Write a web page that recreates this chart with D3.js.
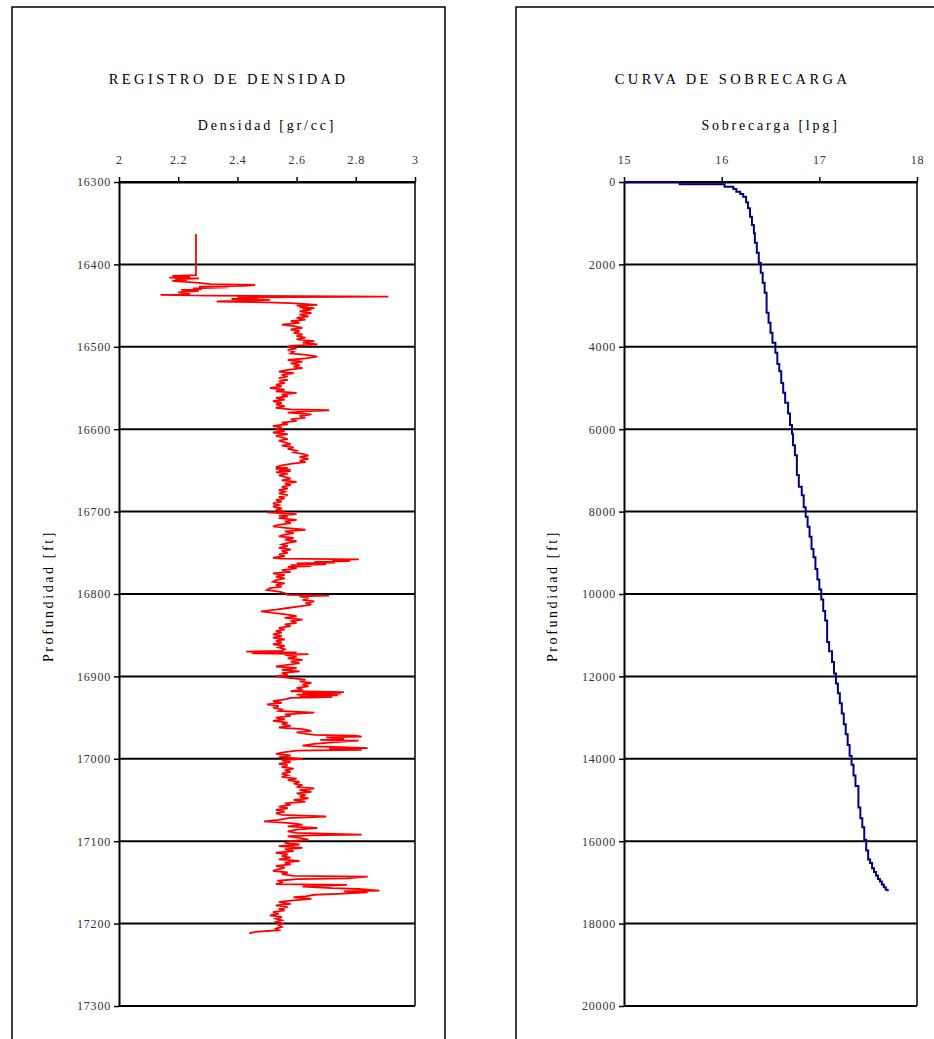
<!DOCTYPE html>
<html><head><meta charset="utf-8">
<script src="https://cdn.jsdelivr.net/npm/d3@7"></script>
<style>
body{margin:0;background:#fff;}
svg{display:block;font-family:"Liberation Serif","Times New Roman",serif;}
</style></head><body>
<svg id="c" width="934" height="1039"></svg>
<script>
// ---------- tick values ----------
const densityTicks = [2, 2.2, 2.4, 2.6, 2.8, 3];
const depthTicks = [16300, 16400, 16500, 16600, 16700, 16800, 16900, 17000, 17100, 17200, 17300];
const overburdenTicks = [15, 16, 17, 18];
const obDepthTicks = [0, 2000, 4000, 6000, 8000, 10000, 12000, 14000, 16000, 18000, 20000];

// ---------- density log (depth ft, density gr/cc) ----------
const densityDepth = [
  16363,16413,16414,16415,16416,16417,16418,16419,16420,16421,16422,
  16424,16425,16426,16427,16428,16429,16430,16431,16432,
  16434,16436,16437,16438,16439,16440,16441,16442,16443,16444,16445,16446,16447,16448,16449,16450,16451,16452,16453,16454,16455,
  16457,16459,16461,16463,16465,16467,16469,16471,16473,16475,16477,16479,16481,16483,16485,16487,16489,16491,16493,16495,16497,16499,
  16500,16502,16504,16506,16508,16510,16512,16514,16516,16518,16520,16522,16524,16526,16528,16530,16532,16534,16536,16538,16540,16542,16544,16546,16548,16550,16552,16554,16556,16558,16560,16562,16564,16566,16568,16570,16572,16574,16576,
  16577,16578,
  16580,16582,16584,16586,16588,16590,16592,16594,16596,16598,16600,16602,16604,16606,16608,16610,16612,16614,16616,16618,16620,16622,16624,16626,16628,16630,16632,16634,16636,16638,16640,16642,16644,16646,
  16647,16648,16649,16650,16651,16652,
  16654,16656,16658,16660,16662,16664,16666,16668,16670,16672,16674,16676,16678,16680,16682,16684,16686,16688,16690,16692,16694,16696,16698,16700,
  16701,16703,16705,
  16706,16708,16710,16712,16714,16716,16718,16720,16722,16724,16726,16728,16730,16732,16734,16736,16738,16740,16742,16744,16746,16748,16750,16752,16754,16756,
  16757,16758,16759,16760,16761,16762,16763,16764,16765,16766,16767,
  16769,16771,16773,16775,16777,16779,16781,16783,16785,16787,16789,16791,16793,16795,16797,16799,16801,
  16802,16803,
  16805,16807,16809,16811,16813,16815,16817,16819,16821,16823,16825,16827,16829,16831,16833,16835,16837,16839,16841,16843,16845,16847,16849,16851,16853,16855,16857,16859,16861,16863,16865,16867,16869,
  16870,16871,16872,16873,16874,
  16876,16878,16880,16882,16884,16886,16888,16890,16892,16894,16896,16898,16900,
  16902,16904,16906,16908,16910,16912,16914,16916,16918,
  16919,16920,16921,16922,16923,16924,16925,
  16926,16928,16930,16932,16934,16936,16938,16940,16942,16944,16946,16948,16950,16952,16954,16956,16958,16960,16962,16964,16966,16968,16970,
  16971,16972,16973,16974,
  16976,16977,16978,
  16980,16982,16984,
  16985,16986,16987,16988,16989,
  16990,16992,16994,16996,16998,
  17000,17002,17004,17006,17008,17010,17012,17014,17016,17018,
  17020,17022,17024,17026,17028,17030,17032,17034,17036,17038,
  17040,17042,17044,17046,17048,17050,17052,17054,17056,17058,
  17060,17062,17064,17066,17068,17070,17072,17074,17076,17078,
  17080,17082,17084,17086,17088,17090,
  17092,17093,17094,
  17096,17098,17100,17102,17104,17106,17108,17110,17112,17114,17116,17118,17120,17122,17124,17126,17128,17130,17132,17134,17136,17138,17140,17142,
  17143,17145,17146,17148,17150,17152,17153,17155,17157,17158,17160,17161,17162,17164,17165,17167,17168,
  17170,17172,17174,17176,17178,17180,17182,17184,17186,17188,17190,17192,17194,17196,17198,17200,17202,17204,17206,17208,
  17210,17212
];
const densityValue = [
  2.26,2.26,2.18,2.24,2.17,2.27,2.19,2.23,2.18,2.21,2.26,
  2.31,2.46,2.42,2.27,2.37,2.25,2.28,2.21,2.27,
  2.20,2.24,2.14,2.30,2.91,2.40,2.47,2.38,2.51,2.44,2.33,2.50,2.58,2.62,2.67,2.60,2.64,2.61,2.66,2.62,2.65,
  2.61,2.65,2.61,2.64,2.60,2.63,2.58,2.61,2.55,2.59,2.62,2.58,2.61,2.59,2.62,2.60,2.63,2.60,2.66,2.62,2.67,2.58,
  2.57,2.60,2.57,2.59,2.58,2.64,2.67,2.63,2.57,2.62,2.58,2.61,2.59,2.62,2.57,2.54,2.59,2.55,2.57,2.54,2.57,2.54,2.56,2.53,2.55,2.51,2.56,2.53,2.60,2.55,2.57,2.53,2.56,2.52,2.55,2.53,2.56,2.53,2.58,
  2.71,2.64,
  2.57,2.65,2.61,2.63,2.58,2.60,2.55,2.57,2.52,2.55,2.53,2.56,2.52,2.57,2.53,2.55,2.57,2.54,2.56,2.58,2.55,2.59,2.57,2.60,2.59,2.62,2.64,2.61,2.64,2.61,2.63,2.58,2.55,2.53,
  2.57,2.53,2.58,2.54,2.58,2.53,
  2.57,2.54,2.56,2.58,2.55,2.60,2.56,2.58,2.55,2.57,2.54,2.56,2.54,2.57,2.54,2.56,2.53,2.55,2.52,2.54,2.52,2.55,2.53,2.56,
  2.50,2.60,2.54,
  2.57,2.54,2.60,2.56,2.58,2.54,2.52,2.57,2.63,2.56,2.59,2.56,2.54,2.59,2.56,2.60,2.57,2.55,2.57,2.54,2.58,2.55,2.57,2.54,2.56,2.52,
  2.55,2.81,2.72,2.78,2.66,2.73,2.60,2.70,2.58,2.65,2.57,
  2.60,2.55,2.58,2.52,2.56,2.53,2.56,2.53,2.52,2.56,2.53,2.55,2.51,2.50,2.54,2.56,2.57,
  2.71,2.61,
  2.64,2.62,2.66,2.63,2.65,2.61,2.57,2.53,2.48,2.52,2.57,2.60,2.56,2.62,2.58,2.60,2.56,2.58,2.54,2.56,2.53,2.55,2.52,2.55,2.52,2.56,2.53,2.55,2.52,2.56,2.54,2.56,2.55,
  2.43,2.60,2.45,2.64,2.56,
  2.60,2.57,2.62,2.58,2.61,2.57,2.53,2.60,2.55,2.61,2.55,2.57,2.53,
  2.58,2.63,2.61,2.65,2.62,2.64,2.60,2.62,2.58,
  2.76,2.62,2.75,2.60,2.74,2.61,2.72,
  2.58,2.56,2.52,2.55,2.50,2.54,2.52,2.55,2.54,2.66,2.56,2.58,2.53,2.56,2.52,2.57,2.55,2.58,2.54,2.62,2.65,2.60,2.64,
  2.66,2.80,2.82,2.70,
  2.76,2.68,2.81,
  2.72,2.66,2.62,
  2.66,2.75,2.84,2.71,2.82,
  2.60,2.56,2.53,2.58,2.54,
  2.62,2.55,2.58,2.54,2.57,2.55,2.59,2.56,2.58,2.55,
  2.57,2.55,2.60,2.57,2.61,2.59,2.62,2.60,2.66,2.61,
  2.65,2.60,2.63,2.61,2.64,2.59,2.63,2.56,2.58,2.54,
  2.57,2.53,2.56,2.53,2.55,2.70,2.57,2.54,2.49,2.58,
  2.62,2.57,2.67,2.60,2.57,2.60,
  2.82,2.65,2.57,
  2.61,2.64,2.58,2.56,2.61,2.54,2.62,2.56,2.59,2.53,2.57,2.55,2.58,2.54,2.61,2.56,2.58,2.53,2.56,2.54,2.52,2.57,2.55,2.59,
  2.84,2.77,2.60,2.54,2.55,2.53,2.77,2.62,2.72,2.81,2.88,2.76,2.84,2.74,2.66,2.63,2.59,
  2.65,2.58,2.54,2.58,2.53,2.57,2.54,2.56,2.52,2.54,2.51,2.55,2.53,2.55,2.53,2.55,2.54,2.55,2.53,2.54,
  2.46,2.44
];

// ---------- overburden curve (depth ft, lpg) ----------
const obDepth = [0,0,56,113,170,235,291,356,494,639,
  841,1044,1246,1474,1716,1959,2201,2443,2686,3172,
  3414,3657,3900,4142,4417,4594,4881,5115,5358,5618,
  5896,6113,6391,6634,7111,7398,7606,7893,8127,8370,
  8613,8908,9108,9394,9646,9889,10132,10410,10644,11165,
  11391,11651,11929,12172,12406,12649,12901,13161,13404,13665,
  13925,14142,14403,14663,15184,15444,15661,15965,16225,16442,
  16529,16659,16746,16833,16920,16981,17050,17119,17180,17212];
const obValue = [15.00,15.57,16.03,16.12,16.15,16.19,16.22,16.25,16.27,16.29,
  16.31,16.33,16.34,16.36,16.38,16.40,16.42,16.44,16.46,16.48,
  16.50,16.52,16.55,16.57,16.59,16.61,16.63,16.65,16.68,16.70,
  16.72,16.73,16.75,16.77,16.79,16.82,16.84,16.86,16.88,16.90,
  16.92,16.94,16.96,16.98,17.00,17.02,17.04,17.06,17.08,17.10,
  17.13,17.15,17.17,17.19,17.21,17.23,17.25,17.27,17.29,17.31,
  17.33,17.35,17.37,17.40,17.42,17.44,17.46,17.48,17.50,17.52,
  17.54,17.56,17.58,17.60,17.62,17.64,17.66,17.68,17.70,17.70];

const svg = d3.select("#c");
const fmt = d3.format("~g");

function panel(o) {
  const g = svg.append("g");
  // frame
  g.append("rect").attr("x", o.fx).attr("y", 7).attr("width", 433).attr("height", 1060)
    .attr("fill", "none").attr("stroke", "#000").attr("stroke-width", 1.5);
  const x = d3.scaleLinear().domain(o.xDomain).range([o.L, o.R]);
  const y = d3.scaleLinear().domain(o.yDomain).range([182, 1006]);
  // gridlines
  g.selectAll("line.grid").data(o.yTicks).join("line")
    .attr("x1", o.L).attr("x2", o.R).attr("y1", d => y(d)).attr("y2", d => y(d))
    .attr("stroke", "#000").attr("stroke-width", 2);
  // right border
  g.append("line").attr("x1", o.R).attr("x2", o.R).attr("y1", 182).attr("y2", 1006)
    .attr("stroke", "#000").attr("stroke-width", 1.5);
  // axes
  const ax = g.append("g").attr("transform", "translate(0,182)")
    .call(d3.axisTop(x).tickValues(o.xTicks).tickSize(5).tickSizeOuter(0).tickPadding(13).tickFormat(fmt));
  const ay = g.append("g").attr("transform", `translate(${o.L},0)`)
    .call(d3.axisLeft(y).tickValues(o.yTicks).tickSize(5).tickSizeOuter(0).tickPadding(3).tickFormat(d3.format("d")));
  [ax, ay].forEach(a => {
    a.select(".domain").attr("stroke", "#000").attr("stroke-width", 2);
    a.selectAll(".tick line").attr("stroke", "#000").attr("stroke-width", 1.5);
    a.selectAll(".tick text").attr("fill", "#333").style("font-size", "12px")
      .style("font-family", '"Liberation Serif",serif').style("letter-spacing", "0.8px");
  });
  // series (drawn over the axes)
  const pts = d3.zip(o.vals, o.deps);
  const line = d3.line().x(d => x(d[0])).y(d => y(d[1])).curve(o.curve);
  g.append("path").datum(pts).attr("d", line).attr("fill", "none")
    .attr("stroke", o.color).attr("stroke-width", o.width).attr("stroke-linejoin", "miter");
  // titles
  g.append("text").attr("x", o.fx + 433 / 2).attr("y", 84).attr("text-anchor", "middle")
    .style("font-size", "14.5px").style("letter-spacing", "3.4px").attr("fill", "#000").text(o.title);
  g.append("text").attr("x", (o.L + o.R) / 2).attr("y", 130).attr("text-anchor", "middle")
    .style("font-size", "14px").style("letter-spacing", "2.8px").attr("fill", "#000").text(o.xTitle);
  g.append("text").attr("transform", `translate(${o.fx + 41},596) rotate(-90)`).attr("text-anchor", "middle")
    .style("font-size", "14px").style("letter-spacing", "2.6px").attr("fill", "#000").text("Profundidad [ft]");
}

panel({
  fx: 12, L: 119, R: 415, xDomain: [2, 3], yDomain: [16300, 17300],
  xTicks: densityTicks, yTicks: depthTicks, vals: densityValue, deps: densityDepth,
  curve: d3.curveLinear, color: "#ff0000", width: 1.8,
  title: "REGISTRO DE DENSIDAD", xTitle: "Densidad [gr/cc]"
});
panel({
  fx: 516, L: 624, R: 917, xDomain: [15, 18], yDomain: [0, 20000],
  xTicks: overburdenTicks, yTicks: obDepthTicks, vals: obValue, deps: obDepth,
  curve: d3.curveStepBefore, color: "#000080", width: 2,
  title: "CURVA DE SOBRECARGA", xTitle: "Sobrecarga [lpg]"
});
</script>
</body></html>
